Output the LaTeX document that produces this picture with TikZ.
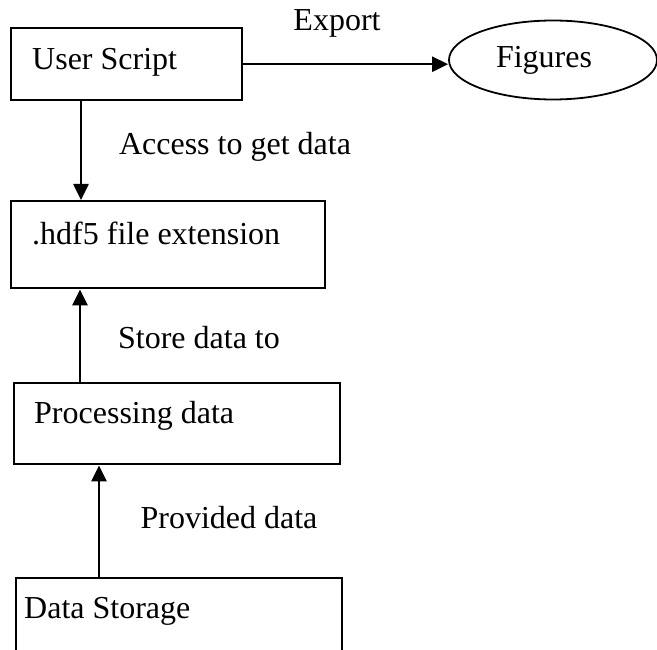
\documentclass[tikz,border=0pt]{standalone}
\usepackage{fontspec}
\setmainfont{Liberation Serif}
\usetikzlibrary{arrows.meta,shapes.geometric}

\tikzset{
	blk/.style={draw, line width=2.4pt, rectangle, anchor=north west, align=flush left, inner ysep=0pt},
	arr/.style={-{Triangle[length=16pt,width=15pt]}, line width=2.6pt},
	lbl/.style={inner sep=0pt}
}

\begin{document}
\begin{tikzpicture}
			\begin{scope}[x={1pt},y={-1pt},font=\fontsize{32}{38}\selectfont]
				\clip (0,0) rectangle (657,650); % page

				\node[blk, inner xsep=21pt, text width=189pt, text height=41pt, text depth=31pt] (usr) at (10,27) {User Script};
				\node[blk, inner xsep=21pt, text width=272pt, text height=43pt, text depth=44pt] (hdf) at (10,200) {.hdf5 file extension};
				\node[blk, inner xsep=20pt, text width=286pt, text height=40pt, text depth=41pt] (proc) at (13,382) {Processing data};
				\node[blk, inner xsep=8pt, text width=310pt, text height=40pt, text depth=43pt] (store) at (15,577) {Data Storage};

				\node[draw, ellipse, line width=1.8pt, minimum width=208pt, minimum height=79pt, text width=114pt, align=flush left, inner sep=0pt] (fig) at (553,60) {Figures};

				\draw[arr] (usr.east) -- (usr.east -| fig.west); % export
				\draw[arr] ([xshift=71pt]usr.south west) -- ([xshift=71pt]hdf.north west); % access
				\draw[arr] ([xshift=67pt]proc.north west) -- ([xshift=70pt]hdf.south west); % store
				\draw[arr] ([xshift=84pt]store.north west) -- ([xshift=86pt]proc.south west); % provide

				\node[lbl] (lexp) at (337,23) {Export};
				\node[lbl] (lacc) at (235,147) {Access to get data};
				\node[lbl] (lsto) at (199,338) {Store data to};
				\node[lbl] (lpro) at (229,518) {Provided data};
			\end{scope}
		\end{tikzpicture}
\end{document}
